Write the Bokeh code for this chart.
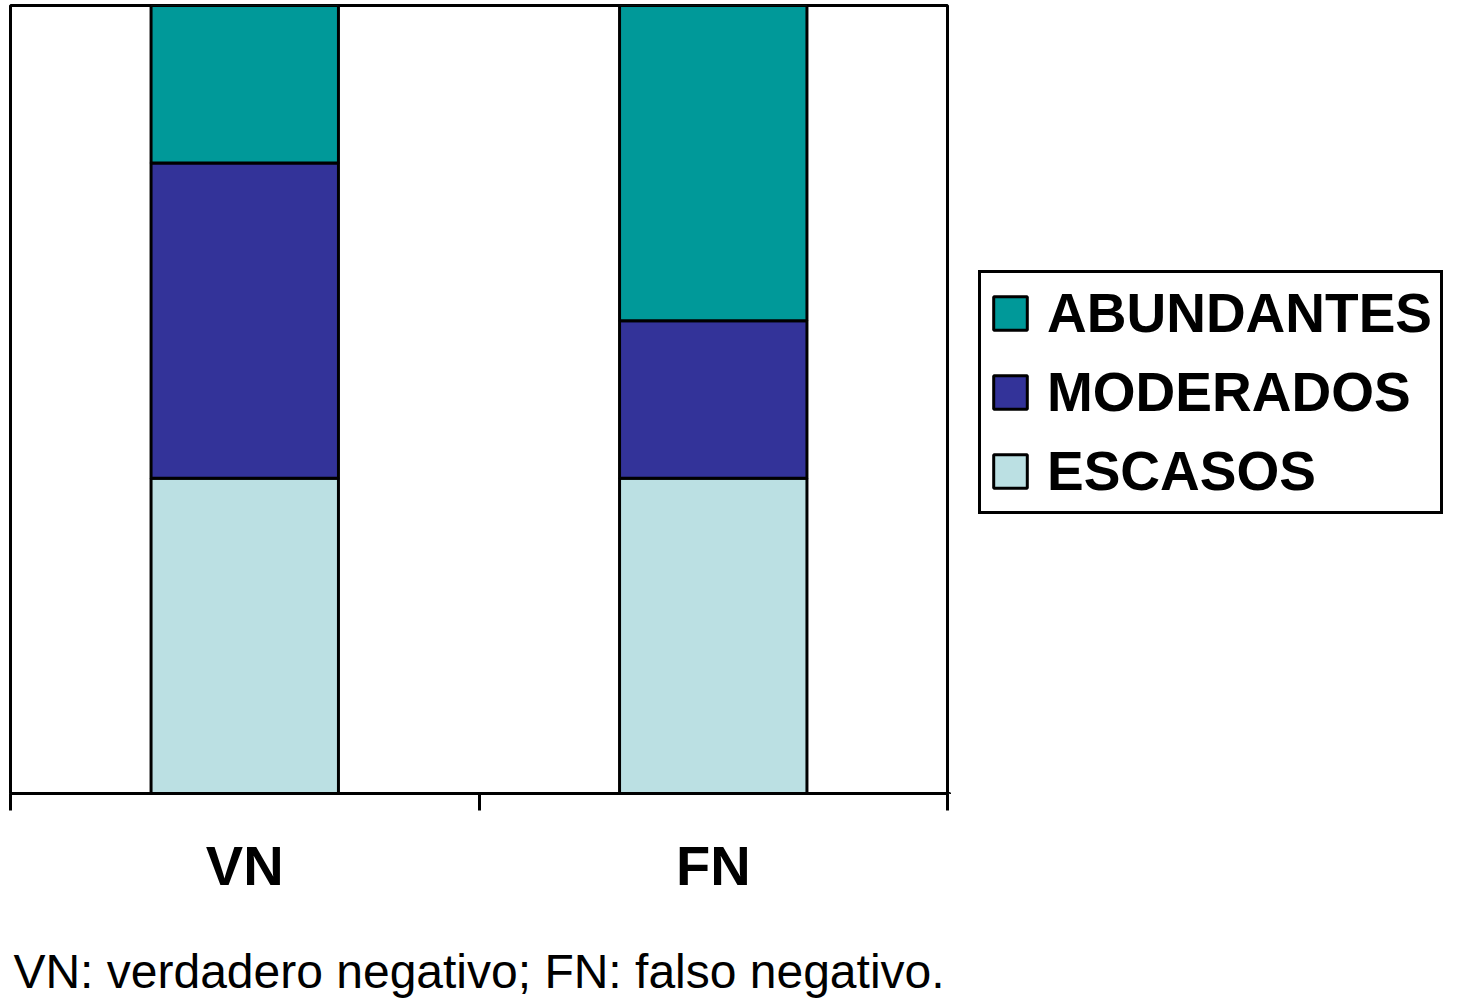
from bokeh.plotting import figure
from bokeh.layouts import row
from bokeh.models import (ColumnDataSource, Range1d, FixedTicker, Legend, LegendItem)
from bokeh.embed import file_html
from bokeh.resources import INLINE

categories = ["VN", "FN"]
escasos = [40, 40]
moderados = [40, 20]
abundantes = [20, 40]
series_names = ["ESCASOS", "MODERADOS", "ABUNDANTES"]
colors = ["#BBE0E3", "#333399", "#009999"]
caption = "VN: verdadero negativo; FN: falso negativo."

xs = [i + 0.5 for i in range(len(categories))]
src = ColumnDataSource(dict(x=xs, escasos=escasos, moderados=moderados, abundantes=abundantes))
stack_cols = ["escasos", "moderados", "abundantes"]

p = figure(width=949, height=1000, x_range=Range1d(0, len(categories)),
           y_range=Range1d(0, 100), output_backend="svg", toolbar_location=None,
           y_axis_location=None, min_border_left=10, min_border_top=5, min_border_right=2,
           min_border_bottom=0)
p.xgrid.visible = False
p.ygrid.visible = False
p.outline_line_color = "black"
p.outline_line_width = 3
p.background_fill_color = "white"
p.border_fill_color = "white"

rs = p.vbar_stack(stack_cols, x="x", width=0.4, color=colors,
                  line_color="black", line_width=3, source=src)

ax = p.xaxis[0]
ax.ticker = FixedTicker(ticks=xs, minor_ticks=[float(i) for i in range(len(categories) + 1)])
ax.major_label_overrides = {x: c for x, c in zip(xs, categories)}
ax.major_tick_out = 0
ax.major_tick_in = 0
ax.minor_tick_out = 17
ax.minor_tick_in = 0
ax.minor_tick_line_color = "black"
ax.minor_tick_line_width = 3
ax.axis_line_color = "black"
ax.axis_line_width = 3
ax.major_label_text_font = "Liberation Sans"
ax.major_label_text_font_style = "bold"
ax.major_label_text_font_size = "56px"
ax.major_label_text_color = "black"
ax.major_label_standoff = 23
ax.axis_label = caption
ax.axis_label_text_font = "Liberation Sans"
ax.axis_label_text_font_style = "normal"
ax.axis_label_text_font_size = "48px"
ax.axis_label_text_color = "black"
ax.axis_label_standoff = 45

# legend panel: a second figure to the right; its bars lie outside its visible ranges
p2 = figure(width=509, height=1000, x_range=Range1d(10, 11), y_range=Range1d(200, 300),
            output_backend="svg", toolbar_location=None, x_axis_location=None,
            y_axis_location=None, min_border=0)
p2.xgrid.visible = False
p2.ygrid.visible = False
p2.outline_line_color = None
p2.background_fill_color = "white"
p2.border_fill_color = "white"
lrs = p2.vbar_stack(stack_cols, x="x", width=0.4, color=colors,
                    line_color="black", line_width=3, source=src)

items = [LegendItem(label=n, renderers=[r]) for n, r in zip(series_names, lrs)][::-1]
legend = Legend(items=items, location=(29, 279), margin=0, padding=8, spacing=15,
                glyph_width=42, glyph_height=42, label_height=60, label_standoff=16,
                border_line_color="black", border_line_width=3, border_line_alpha=1.0,
                background_fill_alpha=1.0,
                label_text_font="Liberation Sans", label_text_font_style="bold",
                label_text_font_size="55px", label_text_color="black")
p2.add_layout(legend, "center")

layout = row(p, p2, spacing=0)
open("out.html", "w").write(file_html(layout, INLINE))
